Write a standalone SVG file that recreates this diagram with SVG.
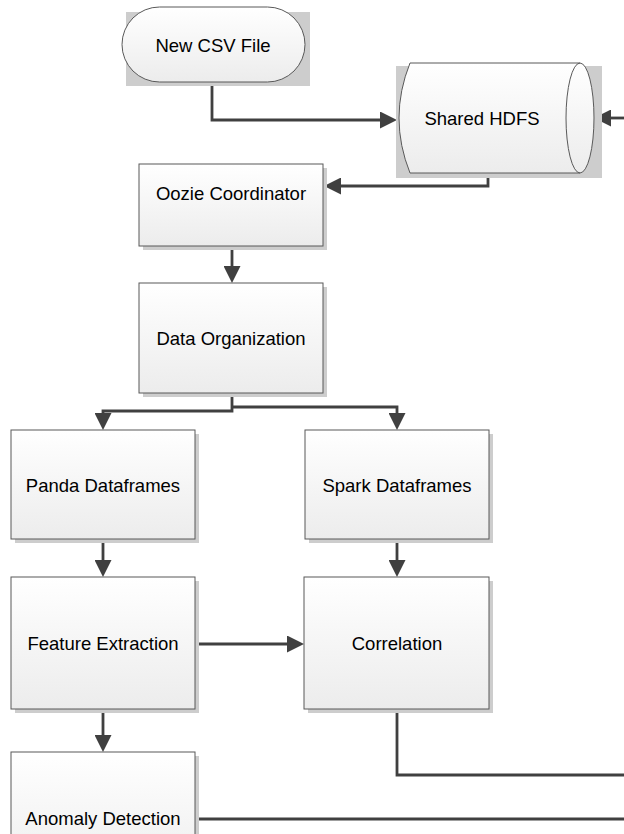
<svg xmlns="http://www.w3.org/2000/svg" width="624" height="834" viewBox="0 0 624 834">
<defs>
<linearGradient id="g" x1="0" y1="0" x2="0" y2="1">
<stop offset="0" stop-color="#ffffff"/>
<stop offset="1" stop-color="#ececec"/>
</linearGradient>
<marker id="arr" viewBox="0 0 17 17" refX="8" refY="8.5" markerWidth="17" markerHeight="17" markerUnits="userSpaceOnUse" orient="auto">
<path d="M0,0 L17,8.5 L0,17 Z" fill="#404040"/>
</marker>
<style>
.sh{fill:#cdcdcd;}
.bx{fill:url(#g);stroke:#595959;stroke-width:1;}
.t{font-family:"Liberation Sans",Arial,sans-serif;font-size:18.5px;fill:#000;text-anchor:middle;dominant-baseline:central;}
.c{fill:none;stroke:#404040;stroke-width:2.8;}
</style>
</defs>
<rect width="624" height="834" fill="#ffffff"/>
<g id="connectors">
<path class="c" d="M212,83 V120 H388" marker-end="url(#arr)"/>
<path class="c" d="M624,118 H603" marker-end="url(#arr)"/>
<path class="c" d="M488,173 V186 H333" marker-end="url(#arr)"/>
<path class="c" d="M232,246 V274" marker-end="url(#arr)"/>
<path class="c" d="M232,393 V411 H103 V421" marker-end="url(#arr)"/>
<path class="c" d="M232,407 H397 V421" marker-end="url(#arr)"/>
<path class="c" d="M103,539 V568" marker-end="url(#arr)"/>
<path class="c" d="M397,539 V568" marker-end="url(#arr)"/>
<path class="c" d="M195,644 H295" marker-end="url(#arr)"/>
<path class="c" d="M103,709 V743" marker-end="url(#arr)"/>
<path class="c" d="M397,709 V775 H624"/>
<path class="c" d="M195,819 H624"/>
</g>
<g id="new-csv">
<rect class="sh" x="126" y="12" width="184" height="74"/>
<rect class="bx" x="122" y="7" width="183" height="75" rx="37.5" ry="37.5"/>
<text class="t" x="213" y="45">New CSV File</text>
</g>
<g id="shared-hdfs">
<rect class="sh" x="396" y="66" width="206" height="112"/>
<path class="bx" d="M410,63 H580 A14,55 0 0 1 580,173 H410 Q388,118 410,63 Z"/>
<path fill="none" stroke="#595959" stroke-width="1" d="M580,63 A14,55 0 0 0 580,173"/>
<text class="t" x="482" y="118">Shared HDFS</text>
</g>
<g id="oozie">
<rect class="sh" x="143" y="168" width="184" height="82"/>
<rect class="bx" x="139" y="164" width="184" height="82"/>
<text class="t" x="231" y="193">Oozie Coordinator</text>
</g>
<g id="data-org">
<rect class="sh" x="143" y="287" width="184" height="110"/>
<rect class="bx" x="139" y="283" width="184" height="110"/>
<text class="t" x="231" y="338">Data Organization</text>
</g>
<g id="panda">
<rect class="sh" x="15" y="434" width="184" height="109"/>
<rect class="bx" x="11" y="430" width="184" height="109"/>
<text class="t" x="103" y="485">Panda Dataframes</text>
</g>
<g id="spark">
<rect class="sh" x="309" y="434" width="184" height="109"/>
<rect class="bx" x="305" y="430" width="184" height="109"/>
<text class="t" x="397" y="485">Spark Dataframes</text>
</g>
<g id="feature">
<rect class="sh" x="15" y="581" width="184" height="132"/>
<rect class="bx" x="11" y="577" width="184" height="132"/>
<text class="t" x="103" y="643">Feature Extraction</text>
</g>
<g id="correlation">
<rect class="sh" x="308" y="581" width="185" height="132"/>
<rect class="bx" x="304" y="577" width="185" height="132"/>
<text class="t" x="397" y="643">Correlation</text>
</g>
<g id="anomaly">
<rect class="sh" x="15" y="756" width="184" height="132"/>
<rect class="bx" x="11" y="752" width="184" height="132"/>
<text class="t" x="103" y="818">Anomaly Detection</text>
</g>
</svg>
